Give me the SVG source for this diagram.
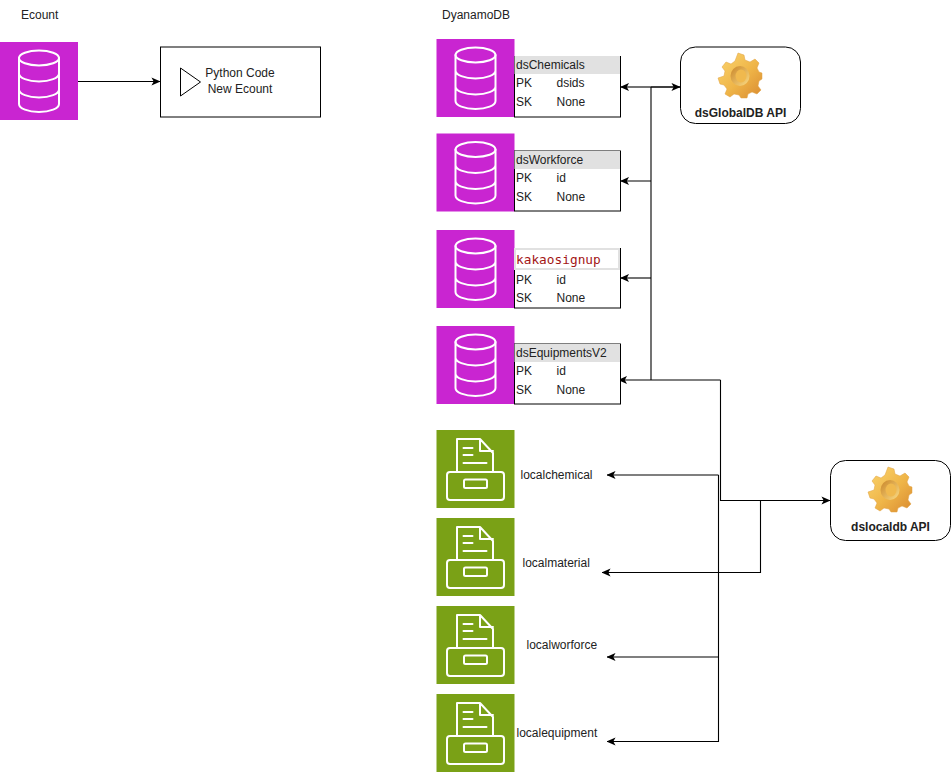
<svg xmlns="http://www.w3.org/2000/svg" width="951" height="773" viewBox="0 0 951 773">
<style>
text{font-family:"Liberation Sans",Arial,sans-serif;font-size:12px;fill:#222}
.b{font-weight:bold;text-anchor:middle}
.m{text-anchor:middle}
.c{fill:none;stroke:#000;stroke-width:1.1}
.w{fill:none;stroke:#fff;stroke-width:2;stroke-linejoin:round;stroke-linecap:round}
.t{fill:#fff;stroke:#000;stroke-width:1}
.h{fill:#e1e1e1}
.p{fill:#c925d1}
.g{fill:#7aa116}
</style>
<defs>
<linearGradient id="gold" x1="0" y1="0" x2="1" y2="1"><stop offset="0" stop-color="#fbd670"/><stop offset="0.55" stop-color="#efb548"/><stop offset="1" stop-color="#d98a30"/></linearGradient>
<linearGradient id="hole" x1="0" y1="0" x2="1" y2="1"><stop offset="0" stop-color="#c98528"/><stop offset="1" stop-color="#fbdc85"/></linearGradient>
<marker id="ar" viewBox="0 0 10 10" refX="9.500" refY="5" markerWidth="9" markerHeight="9" orient="auto-start-reverse" markerUnits="userSpaceOnUse"><path d="M0 0.500L10 5L0 9.500L2.500 5Z" fill="#000"/></marker>
<g id="dbicon">
<rect class="p" width="78" height="78"/>
<ellipse class="w" cx="39" cy="16" rx="20" ry="7.500"/>
<path class="w" d="M19 16V62C19 66.500 28 70 39 70S59 66.500 59 62V16M19 31.500C19 36 28 39.500 39 39.500S59 36 59 31.500M19 47.500C19 52 28 55.500 39 55.500S59 52 59 47.500"/>
</g>
<g id="arch">
<rect class="g" width="78" height="78"/>
<path class="w" d="M20.500 42V9H43.500L56.500 23V42M43.500 9V21H56.500M27 18H36M27 25H36M27 33H50"/>
<rect class="w" x="10.500" y="42" width="57" height="28" rx="3"/>
<rect class="w" x="27.500" y="49.500" width="23" height="8.500" rx="1.500"/>
</g>
<g id="gear">
<path d="M21 0L27 2L28 7L33 9L38 6L42 10L40 15L42 19L45 20L45 26L42 28L41 33L44 37L40 41L35 39L31 41L30 45L24 45L22 42L17 41L13 44L8 41L10 36L7 32L3 31L1 25L7 23L8 18L5 14L9 9L14 11L18 8Z" fill="url(#gold)" stroke="#e0a040" stroke-width="0.500"/>
<ellipse cx="23" cy="23" rx="9.500" ry="10" fill="url(#hole)"/>
<ellipse cx="24" cy="23" rx="5.500" ry="6.500" fill="#f0b94e"/>
</g>
</defs>

<g id="connectors">
<path class="c" d="M78 81.500H160" marker-end="url(#ar)"/>
<path class="c" d="M651 87H620.500" marker-end="url(#ar)"/>
<path class="c" style="stroke-width:1.500" d="M651 87H680" marker-end="url(#ar)"/>
<path class="c" d="M651 87V380M651 181H620.500" marker-end="url(#ar)"/>
<path class="c" d="M651 278H620.500" marker-end="url(#ar)"/>
<path class="c" d="M720.500 380H618.500" marker-end="url(#ar)"/>
<path class="c" d="M720.500 380V500.500H830" marker-end="url(#ar)"/>
<path class="c" d="M718.500 475H607" marker-end="url(#ar)"/>
<path class="c" d="M718.500 475V741.500H607" marker-end="url(#ar)"/>
<path class="c" d="M760.500 500.500V572.500H602" marker-end="url(#ar)"/>
<path class="c" d="M718.500 657H607" marker-end="url(#ar)"/>
</g>

<g id="label-ecount"><text x="21" y="19">Ecount</text></g>
<g id="label-dynamodb"><text x="442" y="19">DyanamoDB</text></g>

<g id="ecount-db"><use href="#dbicon" x="0" y="42"/></g>
<g id="python-code">
<rect x="160.500" y="47" width="160" height="70" fill="#fff" stroke="#000"/>
<path d="M180.500 68L200.500 82L180.500 96Z" fill="#fff" stroke="#000"/>
<text class="m" x="240" y="77">Python Code</text>
<text class="m" x="240" y="93">New Ecount</text>
</g>

<g id="dsChemicals">
<use href="#dbicon" x="436.500" y="39"/>
<rect class="t" x="514.500" y="56.500" width="106" height="60.500"/>
<rect class="h" x="514.500" y="56" width="105.500" height="18"/>
<text x="516" y="69">dsChemicals</text>
<text x="516" y="87">PK</text><text x="556.500" y="87">dsids</text>
<text x="516" y="106">SK</text><text x="556.500" y="106">None</text>
</g>
<g id="dsWorkforce">
<use href="#dbicon" x="436.500" y="133.500"/>
<rect class="t" x="514.500" y="151" width="106" height="60"/>
<rect class="h" x="514.500" y="151" width="105.500" height="18"/>
<text x="516" y="164">dsWorkforce</text>
<text x="516" y="182">PK</text><text x="556.500" y="182">id</text>
<text x="516" y="201">SK</text><text x="556.500" y="201">None</text>
</g>
<g id="kakaosignup">
<use href="#dbicon" x="436.500" y="230"/>
<rect class="t" x="514.500" y="248.500" width="106" height="59.500"/>
<rect x="515" y="249" width="104" height="20" fill="#fff" stroke="#e1e1e1" stroke-width="2"/>
<text x="516" y="264" style="font-family:'DejaVu Sans Mono','Liberation Mono',monospace;font-size:12.800px;fill:#a31515">kakaosignup</text>
<text x="516" y="284">PK</text><text x="556.500" y="284">id</text>
<text x="516" y="302">SK</text><text x="556.500" y="302">None</text>
</g>
<g id="dsEquipmentsV2">
<use href="#dbicon" x="436.500" y="326"/>
<rect class="t" x="514.500" y="344" width="106" height="60"/>
<rect class="h" x="514.500" y="344" width="105.500" height="18"/>
<text x="516" y="357">dsEquipmentsV2</text>
<text x="516" y="375">PK</text><text x="556.500" y="375">id</text>
<text x="516" y="394">SK</text><text x="556.500" y="394">None</text>
</g>

<g id="localchemical"><use href="#arch" x="436.500" y="430"/><text x="520.500" y="479">localchemical</text></g>
<g id="localmaterial"><use href="#arch" x="436.500" y="518"/><text x="522.500" y="567">localmaterial</text></g>
<g id="localworforce"><use href="#arch" x="436.500" y="606"/><text x="526.500" y="649">localworforce</text></g>
<g id="localequipment"><use href="#arch" x="436.500" y="694"/><text x="516.500" y="737">localequipment</text></g>

<g id="dsGlobalDB-API">
<rect x="680.500" y="47" width="120" height="76.500" rx="15" fill="#fff" stroke="#000"/>
<use href="#gear" x="717" y="53"/>
<text class="b" x="740.500" y="117">dsGlobalDB API</text>
</g>
<g id="dslocaldb-API">
<rect x="830.500" y="460.500" width="120" height="80" rx="15" fill="#fff" stroke="#000"/>
<use href="#gear" x="867" y="467"/>
<text class="b" x="890.500" y="531">dslocaldb API</text>
</g>
</svg>
